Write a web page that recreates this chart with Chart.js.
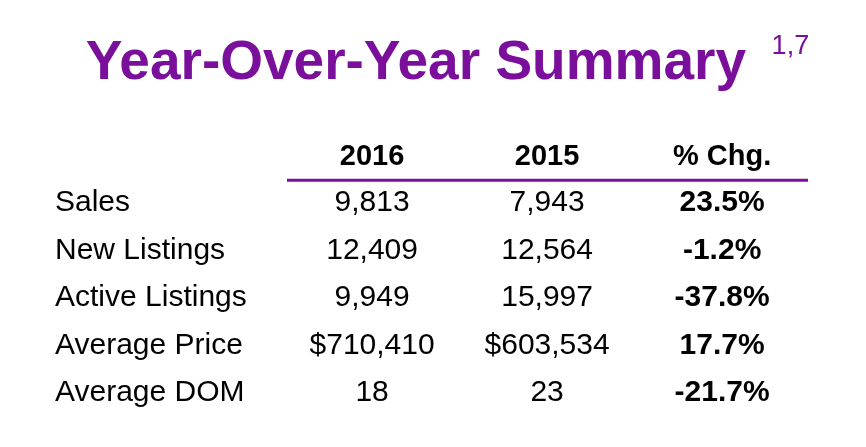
<!DOCTYPE html>
<html>
<head>
<meta charset="utf-8">
<script src="https://cdn.jsdelivr.net/npm/chart.js@4"></script>
<style>
  html, body { margin: 0; padding: 0; background: #fff; }
  #wrap { width: 866px; height: 447px; }
</style>
</head>
<body>
<div id="wrap"><canvas id="table"></canvas></div>
<script>
// Table data
const title = 'Year-Over-Year Summary';
const titleNote = '1,7';
const headers = ['2016', '2015', '% Chg.'];
const rowLabels = ['Sales', 'New Listings', 'Active Listings', 'Average Price', 'Average DOM'];
const values2016 = ['9,813', '12,409', '9,949', '$710,410', '18'];
const values2015 = ['7,943', '12,564', '15,997', '$603,534', '23'];
const pctChange = ['23.5%', '-1.2%', '-37.8%', '17.7%', '-21.7%'];

const purple = '#7a0f9c';
const font = '"Liberation Sans", Arial, sans-serif';

// draws the table text on top of the (hidden) scales
const tablePlugin = {
    id: 'tableText',
    afterDraw(chart) {
        const ctx = chart.ctx;
        const x = chart.scales.x;
        const y = chart.scales.y;
        ctx.save();
        ctx.textBaseline = 'middle';

        // title
        ctx.fillStyle = purple;
        ctx.font = 'bold 55px ' + font;
        ctx.textAlign = 'center';
        ctx.fillText(title, x.getPixelForValue(1.25), y.getPixelForValue(-2.92));
        ctx.font = '27px ' + font;
        ctx.fillText(titleNote, x.getPixelForValue(3.39), y.getPixelForValue(-3.3));

        // header row
        ctx.fillStyle = '#000';
        ctx.font = 'bold 29px ' + font;
        headers.forEach((h, i) => {
            ctx.fillText(h, x.getPixelForValue(i + 1), y.getPixelForValue(-0.97));
        });

        // purple rule
        ctx.strokeStyle = purple;
        ctx.lineWidth = 3;
        ctx.beginPath();
        const ly = y.getPixelForValue(-0.48);
        ctx.moveTo(287, ly);
        ctx.lineTo(808, ly);
        ctx.stroke();

        // body rows
        rowLabels.forEach((label, r) => {
            const py = y.getPixelForValue(r);
            ctx.font = '30px ' + font;
            ctx.textAlign = 'left';
            ctx.fillText(label, 55, py);
            ctx.textAlign = 'center';
            ctx.fillText(values2016[r], x.getPixelForValue(1), py);
            ctx.fillText(values2015[r], x.getPixelForValue(2), py);
            ctx.font = 'bold 30px ' + font;
            ctx.fillText(pctChange[r], x.getPixelForValue(3), py);
        });
        ctx.restore();
    }
};

new Chart(document.getElementById('table'), {
    type: 'scatter',
    data: { datasets: [{ data: [] }] },
    options: {
        responsive: true,
        maintainAspectRatio: false,
        animation: false,
        layout: { padding: 0 },
        plugins: { legend: { display: false }, tooltip: { enabled: false } },
        scales: {
            x: { type: 'linear', display: false, min: -1.126, max: 3.822 },
            y: { type: 'linear', display: false, reverse: true, min: -4.274, max: 5.137 }
        }
    },
    plugins: [tablePlugin]
});
</script>
</body>
</html>
